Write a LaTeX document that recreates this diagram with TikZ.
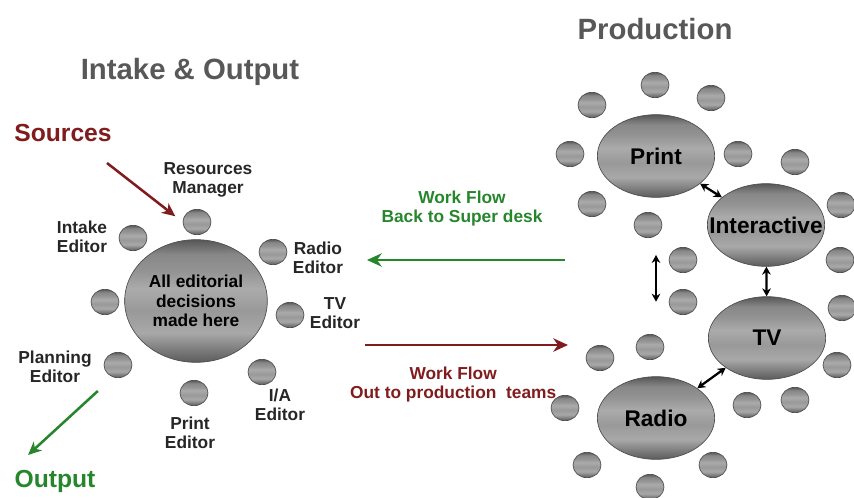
\documentclass[tikz,border=0pt]{standalone}
\usepackage{fontspec}
\setmainfont{Liberation Sans}
\usetikzlibrary{shapes.geometric,arrows.meta}

\definecolor{srcred}{RGB}{128,28,30}
\definecolor{outgreen}{RGB}{38,134,44}
\definecolor{ttlgray}{RGB}{88,88,88}

% banded grey fill for all the discs (bottom to top)
\pgfdeclareverticalshading{disc}{100bp}{color(0bp)=(black!64); color(25bp)=(black!64);
  color(30bp)=(black!52); color(37bp)=(black!34); color(46bp)=(black!40);
  color(55bp)=(black!33); color(62bp)=(black!42); color(69bp)=(black!47);
  color(75bp)=(black!66); color(100bp)=(black!66)}

\begin{document}
\begin{tikzpicture}[
  x=0.75pt, y=-0.75pt,
  seat/.style={
    draw=black!70, line width=0.5pt, ellipse, shade, shading=disc,
    minimum width=21pt, minimum height=19pt, inner sep=0pt
  },
  hub/.style={seat, minimum width=107pt, minimum height=92pt,
    font=\bfseries\fontsize{13}{14.5}\selectfont, align=center},
  desk/.style={seat, minimum width=88pt, minimum height=62pt,
    label={[font=\bfseries\fontsize{17}{20}\selectfont, inner sep=0pt]center:#1}},
  lbl/.style={font=\bfseries\fontsize{13}{14.5}\selectfont, align=center,
    text=black!85, inner sep=1pt},
  ttl/.style={font=\bfseries\fontsize{22}{26}\selectfont, text=ttlgray},
  flow/.style={-{Stealth[length=11pt,width=10pt,inset=3.5pt]}, line width=2.2pt},
  pointer/.style={-{Stealth[length=10pt,width=9pt,inset=3pt]}, line width=1.9pt},
  dbl/.style={{Stealth[length=6pt,width=6.5pt]}-{Stealth[length=6pt,width=6.5pt]},
    line width=1.7pt},
]
\useasboundingbox (0,0) rectangle (854,497);

% titles
\node[ttl] (ttlIn) at (190,72) {Intake \& Output};
\node[ttl] (ttlPr) at (655,29) {Production};

% intake desk
\node[hub] (hub) at (196,301) {All editorial\\decisions\\made here};

\node[seat] (rm)  at (197,222) {};
\node[seat] (ie)  at (133,238) {};
\node[seat] (re)  at (273,252) {};
\node[seat] (sp)  at (105,302) {};
\node[seat] (tve) at (290,315) {};
\node[seat] (pe)  at (118,365) {};
\node[seat] (iae) at (262,372) {};
\node[seat] (pre) at (194,393) {};

\node[lbl] (rmLbl)  at (208,180) {Resources\\Manager};
\node[lbl] (ieLbl)  at (82,237)  {Intake\\Editor};
\node[lbl] (reLbl)  at (318,258) {Radio\\Editor};
\node[lbl] (tveLbl) at (335,313) {TV\\Editor};
\node[lbl] (peLbl)  at (55,367)  {Planning\\Editor};
\node[lbl] (iaeLbl) at (280,405) {I/A\\Editor};
\node[lbl] (preLbl) at (190,433) {Print\\Editor};

\node[font=\bfseries\fontsize{18.5}{22}\selectfont, text=srcred] (src) at (63,133) {Sources};
\node[font=\bfseries\fontsize{18.5}{22}\selectfont, text=outgreen] (out) at (55,481) {Output};

\coordinate (srcFrom) at (107,163);
\draw[pointer, srcred, shorten >=7pt] (srcFrom) -- (rm.180);

\coordinate (outTip) at (28,455);
\draw[pointer, outgreen, shorten <=50pt] (hub) -- (outTip);

% work flow between the two groups
\coordinate (backFrom) at (565,260);
\coordinate (backTo)   at (367,260);
\draw[flow, outgreen] (backFrom) -- node[lbl, text=outgreen, above=23pt, xshift=-3pt]
  {Work Flow\\Back to Super desk} (backTo);

\coordinate (outFrom) at (365,345);
\coordinate (outTo)   at (568,345);
\draw[flow, srcred] (outFrom) -- node[lbl, text=srcred, below=14pt, xshift=-10pt]
  {Work Flow\\Out to production\ \ teams} (outTo);

% production teams
\node[desk=Print]       (prt) at (656,156) {};
\node[desk=Interactive] (int) at (766,225) {};
\node[desk=TV]          (tv)  at (767,338) {};
\node[desk=Radio]       (rad) at (656,418) {};

\node[seat] (s1)  at (655,85)  {};
\node[seat] (s2)  at (592,105) {};
\node[seat] (s3)  at (711,98)  {};
\node[seat] (s4)  at (570,154) {};
\node[seat] (s5)  at (738,154) {};
\node[seat] (s6)  at (795,162) {};
\node[seat] (s7)  at (592,204) {};
\node[seat] (s8)  at (648,225) {};
\node[seat] (s9)  at (841,205) {};
\node[seat] (s10) at (683,260) {};
\node[seat] (s11) at (683,302) {};
\node[seat] (s12) at (840,260) {};
\node[seat] (s13) at (842,308) {};
\node[seat] (s14) at (837,365) {};
\node[seat] (s15) at (650,347) {};
\node[seat] (s16) at (600,358) {};
\node[seat] (s17) at (565,408) {};
\node[seat] (s18) at (747,405) {};
\node[seat] (s19) at (795,400) {};
\node[seat] (s20) at (587,465) {};
\node[seat] (s21) at (713,465) {};
\node[seat] (s22) at (650,487) {};

\draw[dbl] (prt) -- (int);
\draw[dbl] (int) -- (tv);
\draw[dbl] (tv) -- (rad);
\draw[dbl, shorten <=43pt, shorten >=56pt] (prt) -- (rad);

\end{tikzpicture}
\end{document}
